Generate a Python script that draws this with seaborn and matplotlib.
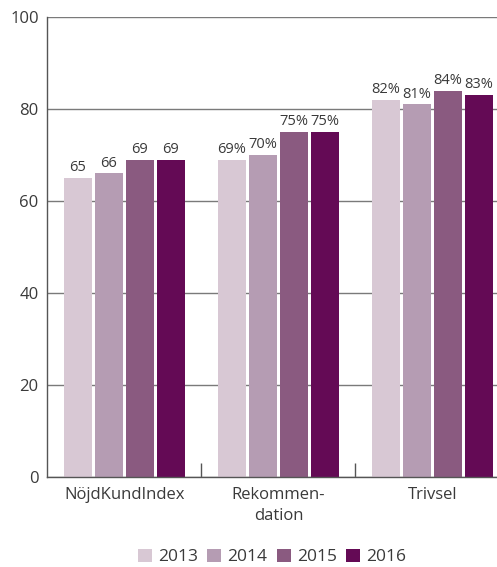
import matplotlib
matplotlib.use("Agg")
import matplotlib.pyplot as plt
import seaborn as sns
import pandas as pd

categories = ["NöjdKundIndex", "Rekommen-\ndation", "Trivsel"]
years = ["2013", "2014", "2015", "2016"]
v2013 = [65, 69, 82]
v2014 = [66, 70, 81]
v2015 = [69, 75, 84]
v2016 = [69, 75, 83]
suffix = ["", "%", "%"]
colors = ["#d8c8d4", "#b59cb3", "#8a5a80", "#640a55"]

rows = []
for yr, vals in zip(years, [v2013, v2014, v2015, v2016]):
    for c, v in zip(categories, vals):
        rows.append({"cat": c, "year": yr, "value": v})
df = pd.DataFrame(rows)

sns.set_theme(style="white")
plt.rcParams["font.family"] = ["Open Sans", "DejaVu Sans"]
text_color = "#3a3a3a"

fig = plt.figure(figsize=(4.97, 5.67), dpi=100)
ax = fig.add_axes([47/497, 1-477/567, 1-47/497, (477-17)/567])

sns.barplot(data=df, x="cat", y="value", hue="year", order=categories,
            hue_order=years, palette=colors, width=0.805, gap=0.1,
            saturation=1, ax=ax, legend=True, errorbar=None, linewidth=0)

for cont, yr in zip(ax.containers, years):
    labels = [f"{int(v)}{s}" for v, s in zip(cont.datavalues, suffix)]
    ax.bar_label(cont, labels=labels, padding=2, fontsize=10.5, color=text_color)

ax.set_ylim(0, 100)
ax.set_xlim(-0.503, 2.42)
ax.set_yticks([0, 20, 40, 60, 80, 100])
ax.yaxis.grid(True, color="#7a7a7a", linewidth=1)
ax.set_axisbelow(True)
for s in ["top", "right"]:
    ax.spines[s].set_visible(False)
ax.spines["left"].set_color("#555555")
ax.spines["bottom"].set_color("#555555")
ax.spines["left"].set_linewidth(1)
ax.spines["bottom"].set_linewidth(1)
ax.set_xlabel("")
ax.set_ylabel("")
ax.tick_params(axis="both", length=0, labelsize=12, labelcolor=text_color)
ax.tick_params(axis="y", pad=6)
ax.tick_params(axis="x", pad=7)
for lab in ax.get_xticklabels():
    lab.set_linespacing(1.45)
ax.set_xticks([0.5, 1.5], minor=True)
ax.tick_params(axis="x", which="minor", direction="in", length=10, width=1, color="#555555", bottom=True)

handles, labels = ax.get_legend_handles_labels()
ax.legend_.remove()
fig.legend(handles, labels, loc="center", bbox_to_anchor=((47+497)/2/497, 1-557/567),
           ncol=4, frameon=False, handlelength=0.8, handleheight=0.8,
           handletextpad=0.35, columnspacing=0.55, fontsize=12.5,
           labelcolor=text_color)

fig.savefig("out.png", dpi=100)
